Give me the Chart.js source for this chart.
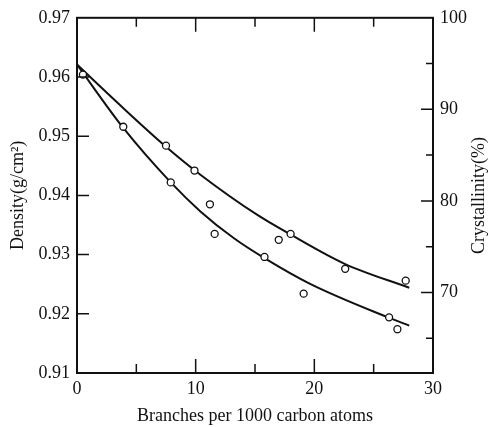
<!DOCTYPE html>
<html lang="en">
<head>
    <meta charset="UTF-8">
    <title>Density and crystallinity vs branching</title>
    <style>
        body { margin: 0; background: #fff; }
        .chart-box { width: 498px; height: 427px; }
    </style>
    <script src="https://cdn.jsdelivr.net/npm/chart.js"></script>
</head>
<body>
    <div class="chart-box">
        <canvas id="densityChart" width="498" height="427"></canvas>
    </div>

    <script>
        // measured points (open circles)
        const branches = [0.5, 3.9, 7.5, 7.9, 9.9, 11.2, 11.6, 15.8, 17.0, 18.0, 19.1, 22.6, 26.3, 27.0, 27.7];
        const density = [0.9604, 0.9516, 0.9484, 0.9422, 0.9442, 0.9385, 0.9335, 0.9296, 0.9325, 0.9335, 0.9234, 0.9276, 0.9194, 0.9174, 0.9256];

        // the two fitted curves
        const upperX = [0, 3.6, 7.4, 10.4, 15.2, 17.9, 22.6, 28.0];
        const upperY = [0.9621, 0.9553, 0.9484, 0.9435, 0.9367, 0.9335, 0.9284, 0.9244];
        const lowerX = [0, 3.9, 7.9, 10.4, 13.2, 15.8, 19.6, 26.2, 28.0];
        const lowerY = [0.9621, 0.9514, 0.9422, 0.9373, 0.9328, 0.9294, 0.9251, 0.9194, 0.9180];

        // tick labels / marks
        const crystTicks = [70, 80, 90, 100];
        const crystMarks = [65, 70, 75, 80, 85, 90, 95];
        const xMarks = [5, 10, 15, 20, 25];
        const densityMarks = [0.92, 0.93, 0.94, 0.95, 0.96];

        const xTitle = 'Branches per 1000 carbon atoms';
        const yTitle = 'Density(g/cm\u00B2)';
        const y2Title = 'Crystallinity(%)';

        const ink = '#111';
        const serif = '"Liberation Serif", "DejaVu Serif", serif';

        function toXY(xs, ys) {
            return xs.map((x, i) => ({ x: x, y: ys[i] }));
        }

        // frame, inward tick marks and the right-hand title
        const frameTicks = {
            id: 'frameTicks',
            afterDraw: function(chart) {
                const ctx = chart.ctx;
                const a = chart.chartArea;
                const sx = chart.scales.x, sy = chart.scales.y, sy2 = chart.scales.y2;
                ctx.save();
                ctx.strokeStyle = ink;
                ctx.lineWidth = 2;
                ctx.strokeRect(a.left, a.top, a.right - a.left, a.bottom - a.top);

                ctx.lineWidth = 1.5;
                ctx.beginPath();
                xMarks.forEach(v => {
                    const len = v % 10 === 0 ? 14 : 9;
                    const px = sx.getPixelForValue(v);
                    ctx.moveTo(px, a.bottom); ctx.lineTo(px, a.bottom - len);
                    ctx.moveTo(px, a.top); ctx.lineTo(px, a.top + len);
                });
                densityMarks.forEach(v => {
                    const py = sy.getPixelForValue(v);
                    ctx.moveTo(a.left, py); ctx.lineTo(a.left + 12, py);
                });
                crystMarks.forEach(v => {
                    const len = v % 10 === 0 ? 12 : 7;
                    const py = sy2.getPixelForValue(v);
                    ctx.moveTo(a.right, py); ctx.lineTo(a.right - len, py);
                });
                ctx.stroke();

                ctx.translate(chart.width - 19, (a.top + a.bottom) / 2);
                ctx.rotate(-Math.PI / 2);
                ctx.font = '18px ' + serif;
                ctx.fillStyle = ink;
                ctx.textAlign = 'center';
                ctx.textBaseline = 'middle';
                ctx.fillText(y2Title, 0, 0);
                ctx.restore();
            }
        };

        const tickFont = { family: serif, size: 18 };

        new Chart(document.getElementById('densityChart'), {
            type: 'scatter',
            data: {
                datasets: [
                    {
                        data: toXY(branches, density),
                        showLine: false,
                        pointStyle: 'circle',
                        pointRadius: 3.5,
                        pointBackgroundColor: '#fff',
                        pointBorderColor: ink,
                        pointBorderWidth: 1.3,
                        order: 0
                    },
                    {
                        data: toXY(upperX, upperY),
                        showLine: true,
                        pointRadius: 0,
                        borderColor: ink,
                        borderWidth: 2,
                        cubicInterpolationMode: 'monotone',
                        order: 1
                    },
                    {
                        data: toXY(lowerX, lowerY),
                        showLine: true,
                        pointRadius: 0,
                        borderColor: ink,
                        borderWidth: 2,
                        cubicInterpolationMode: 'monotone',
                        order: 1
                    }
                ]
            },
            options: {
                responsive: false,
                animation: false,
                layout: { padding: { top: 15, left: 0, right: 0, bottom: 0 } },
                plugins: {
                    legend: { display: false },
                    tooltip: { enabled: false }
                },
                scales: {
                    x: {
                        type: 'linear',
                        min: 0,
                        max: 30,
                        grid: { display: false, drawTicks: false },
                        border: { display: false },
                        ticks: { stepSize: 10, padding: 5, color: ink, font: tickFont },
                        title: { display: true, text: xTitle, color: ink, font: tickFont, padding: { top: 0, bottom: 0 } },
                        afterFit: function(scale) { scale.height = 54; }
                    },
                    y: {
                        position: 'left',
                        min: 0.91,
                        max: 0.97,
                        grid: { display: false, drawTicks: false },
                        border: { display: false },
                        ticks: {
                            stepSize: 0.01,
                            padding: 7,
                            color: ink,
                            font: tickFont,
                            callback: v => v.toFixed(2)
                        },
                        title: { display: true, text: yTitle, color: ink, font: tickFont, padding: { top: 7, bottom: 0 } },
                        afterFit: function(scale) { scale.width = 77; }
                    },
                    y2: {
                        position: 'right',
                        min: 61.2,
                        max: 100,
                        grid: { display: false, drawTicks: false },
                        border: { display: false },
                        ticks: { padding: 7, color: ink, font: tickFont, callback: v => String(v) },
                        afterBuildTicks: function(scale) {
                            scale.ticks = crystTicks.map(v => ({ value: v }));
                        },
                        afterFit: function(scale) { scale.width = 65; }
                    }
                }
            },
            plugins: [frameTicks]
        });
    </script>
</body>
</html>
